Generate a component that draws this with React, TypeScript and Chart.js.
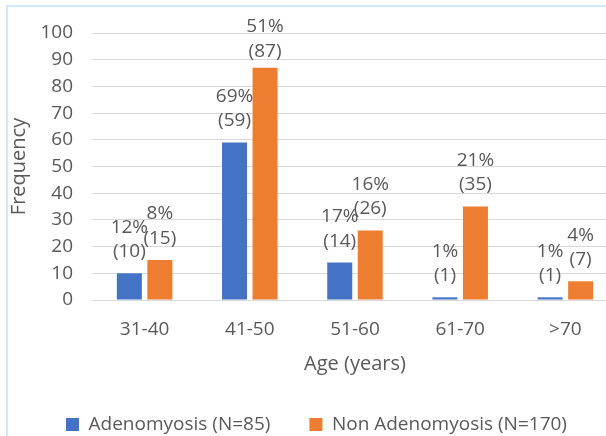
import React, { useEffect, useRef } from "react";
import { Chart, registerables } from "chart.js";

Chart.register(...registerables);

const categories = ["31-40", "41-50", "51-60", "61-70", ">70"];
const adenoValues = [10, 59, 14, 1, 1];
const nonAdenoValues = [15, 87, 26, 35, 7];
const adenoPct = ["12%", "69%", "17%", "1%", "1%"];
const nonAdenoPct = ["8%", "51%", "16%", "21%", "4%"];
const seriesNames = ["Adenomyosis (N=85)", "Non Adenomyosis (N=170)"];
const yAxisTitle = "Frequency";
const xAxisTitle = "Age (years)";

const BLUE = "#4472C4";
const ORANGE = "#ED7D31";
const TEXT = "#595959";
const GRID = "#d9d9d9";
const FONT = "'Open Sans', sans-serif";

const labelPlugin = {
  id: "barLabels",
  afterDatasetsDraw(chart: any) {
    const ctx = chart.ctx;
    ctx.save();
    ctx.font = `19px ${FONT}`;
    ctx.fillStyle = TEXT;
    ctx.textAlign = "center";
    ctx.textBaseline = "middle";
    chart.data.datasets.forEach((ds: any, di: number) => {
      const meta = chart.getDatasetMeta(di);
      const pcts = di === 0 ? adenoPct : nonAdenoPct;
      meta.data.forEach((bar: any, i: number) => {
        const top = bar.y;
        const y1 = Math.max(top - 46, chart.chartArea.top - 6);
        const y2 = y1 + 24.5;
        ctx.fillText(pcts[i], bar.x, y1);
        ctx.fillText(`(${ds.data[i]})`, bar.x, y2);
      });
    });
    ctx.restore();
  },
};

export default function App() {
  const ref = useRef<HTMLCanvasElement>(null);

  useEffect(() => {
    if (!ref.current) return;
    const chart = new Chart(ref.current, {
      type: "bar",
      data: {
        labels: categories,
        datasets: [
          {
            label: seriesNames[0],
            data: adenoValues,
            backgroundColor: BLUE,
            borderWidth: 0,
            categoryPercentage: 0.58,
            barPercentage: 0.82,
          },
          {
            label: seriesNames[1],
            data: nonAdenoValues,
            backgroundColor: ORANGE,
            borderWidth: 0,
            categoryPercentage: 0.58,
            barPercentage: 0.82,
          },
        ],
      },
      options: {
        responsive: false,
        animation: false,
        devicePixelRatio: 1,
        layout: { padding: { left: 15, right: 0, top: 33, bottom: 0 } },
        plugins: {
          legend: {
            position: "bottom",
            labels: {
              boxWidth: 13,
              boxHeight: 13,
              padding: 39,
              color: TEXT,
              font: { family: FONT, size: 19 },
            },
          },
          tooltip: { enabled: false },
        },
        scales: {
          x: {
            grid: { display: false, drawTicks: false },
            border: { display: true, color: GRID, width: 1 },
            ticks: { color: TEXT, font: { family: FONT, size: 19 }, padding: 18 },
            title: {
              display: true,
              text: xAxisTitle,
              color: TEXT,
              font: { family: FONT, size: 20 },
              padding: { top: 0, bottom: 0 },
            },
            afterFit(scale: any) {
              scale.height = 76;
            },
          },
          y: {
            min: 0,
            max: 100,
            ticks: { stepSize: 10, color: TEXT, font: { family: FONT, size: 19 }, padding: 19 },
            grid: { color: GRID, lineWidth: 1, drawTicks: false },
            border: { display: false },
            title: {
              display: true,
              text: yAxisTitle,
              color: TEXT,
              font: { family: FONT, size: 20 },
              padding: { top: -8, bottom: 0 },
            },
            afterFit(scale: any) {
              scale.width = 77;
            },
          },
        },
      },
      plugins: [labelPlugin],
    });
    return () => chart.destroy();
  }, []);

  return (
    <div style={{ position: "fixed", left: 0, top: 0, width: 606, height: 436, overflow: "hidden", background: "#ffffff" }}>
      <div
        style={{
          position: "absolute",
          left: 6,
          top: 5,
          width: 800,
          height: 800,
          border: "2px solid #cfe9f8",
          boxSizing: "border-box",
        }}
      />
      <canvas
        ref={ref}
        width={618}
        height={444}
        style={{ position: "absolute", left: 0, top: 0, width: 618, height: 444 }}
      />
    </div>
  );
}
